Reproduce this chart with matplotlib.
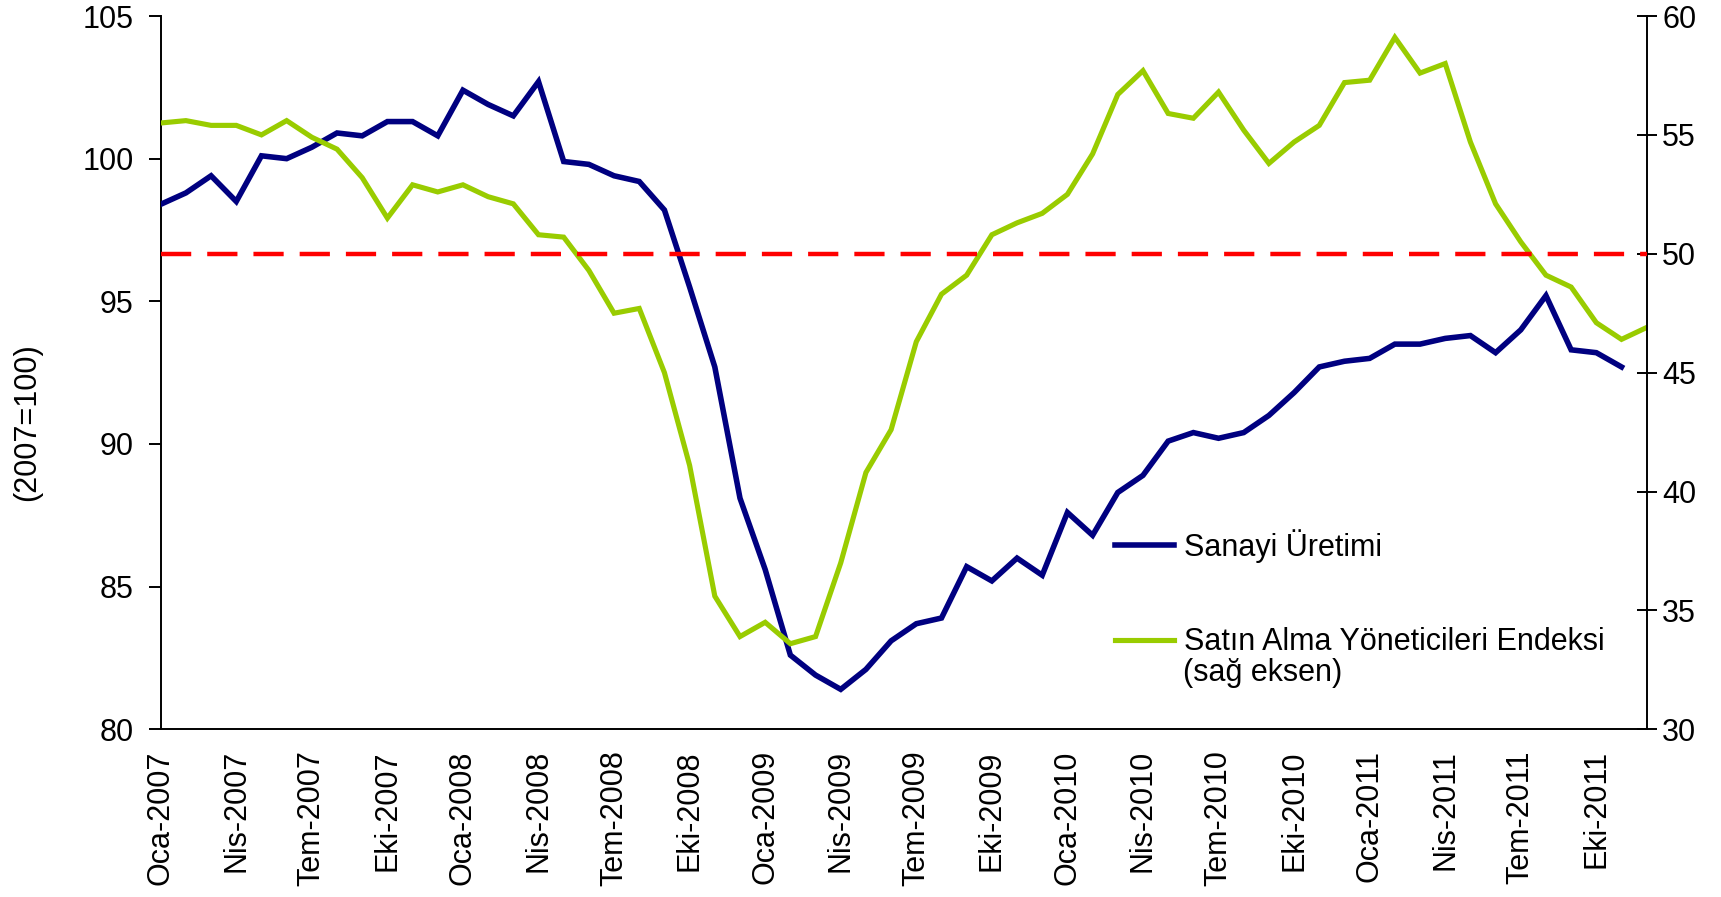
import numpy as np
import matplotlib
matplotlib.use("Agg")
import matplotlib.pyplot as plt

# Aylar: Oca-2007 .. Ara-2011
ay_adlari = ["Oca", "Şub", "Mar", "Nis", "May", "Haz",
             "Tem", "Ağu", "Eyl", "Eki", "Kas", "Ara"]
yillar = [2007, 2008, 2009, 2010, 2011]
aylar = [f"{a}-{y}" for y in yillar for a in ay_adlari]

# Sanayi Üretimi (2007=100), Oca-2007 .. Kas-2011
sanayi = [98.4, 98.8, 99.4, 98.5, 100.1, 100.0, 100.4, 100.9, 100.8, 101.3,
          101.3, 100.8, 102.4, 101.9, 101.5, 102.7, 99.9, 99.8, 99.4, 99.2,
          98.2, 95.5, 92.7, 88.1, 85.6, 82.6, 81.9, 81.4, 82.1, 83.1,
          83.7, 83.9, 85.7, 85.2, 86.0, 85.4, 87.6, 86.8, 88.3, 88.9,
          90.1, 90.4, 90.2, 90.4, 91.0, 91.8, 92.7, 92.9, 93.0, 93.5,
          93.5, 93.7, 93.8, 93.2, 94.0, 95.2, 93.3, 93.2, 92.7]

# Satın Alma Yöneticileri Endeksi, Oca-2007 .. Ara-2011
say_endeksi = [55.5, 55.6, 55.4, 55.4, 55.0, 55.6, 54.9, 54.4, 53.2, 51.5,
               52.9, 52.6, 52.9, 52.4, 52.1, 50.8, 50.7, 49.3, 47.5, 47.7,
               45.0, 41.1, 35.6, 33.9, 34.5, 33.6, 33.9, 37.0, 40.8, 42.6,
               46.3, 48.3, 49.1, 50.8, 51.3, 51.7, 52.5, 54.2, 56.7, 57.7,
               55.9, 55.7, 56.8, 55.2, 53.8, 54.7, 55.4, 57.2, 57.3, 59.1,
               57.6, 58.0, 54.7, 52.1, 50.5, 49.1, 48.6, 47.1, 46.4, 46.9]

esik = 50

plt.rcParams['font.family'] = ['Liberation Sans', 'DejaVu Sans']
fs = 22

fig = plt.figure(figsize=(17.21, 8.97), dpi=100)
ax = fig.add_axes([0.09338, 0.18696, 0.95683 - 0.09338, 0.98216 - 0.18696])
ax2 = ax.twinx()

x = np.arange(len(aylar))
ax.plot(x[:len(sanayi)], sanayi, color='#000080', lw=4.0, label='Sanayi Üretimi',
        solid_joinstyle='miter', zorder=3)
ax2.plot(x, say_endeksi, color='#99CC00', lw=3.7,
         label='Satın Alma Yöneticileri Endeksi', solid_joinstyle='miter', zorder=2)
ax2.axhline(esik, color='#FF0000', lw=3.2, dashes=(6.8, 3.6), zorder=5)

ax.set_xlim(0, len(aylar) - 1)
ax.set_ylim(80, 105)
ax.set_yticks(np.arange(80, 106, 5))
ax2.set_ylim(30, 60)
ax2.set_yticks(np.arange(30, 61, 5))

ax.set_xticks(x[::3])
ax.set_xticklabels(aylar[::3], rotation=90, fontsize=fs)
ax.tick_params(axis='x', length=0, pad=15)
ax.tick_params(axis='y', direction='out', length=8.4, width=1.4, labelsize=fs, pad=11)
ax2.tick_params(axis='y', direction='inout', length=14.4, width=1.4, labelsize=fs, pad=4)

for a in (ax, ax2):
    a.spines['top'].set_visible(False)
    for s in ('left', 'right', 'bottom'):
        a.spines[s].set_linewidth(1.4)
ax.spines['right'].set_visible(False)
ax2.spines['left'].set_visible(False)
ax2.spines['bottom'].set_visible(False)

ax.set_ylabel('(2007=100)', fontsize=fs)
ax.yaxis.set_label_coords(-0.0799, 0.43)

h1, l1 = ax.get_legend_handles_labels()
h2, l2 = ax2.get_legend_handles_labels()
ax2.legend(h1 + h2, l1 + l2, loc='upper left', bbox_to_anchor=(0.6392, 0.427),
           bbox_transform=fig.transFigure, frameon=False, fontsize=fs,
           borderpad=0, handlelength=1.93, handletextpad=0.33, labelspacing=2.1)
fig.text(0.6874, 0.2497, '(sağ eksen)', fontsize=fs, va='center', ha='left')

fig.savefig('out.png', dpi=100)
